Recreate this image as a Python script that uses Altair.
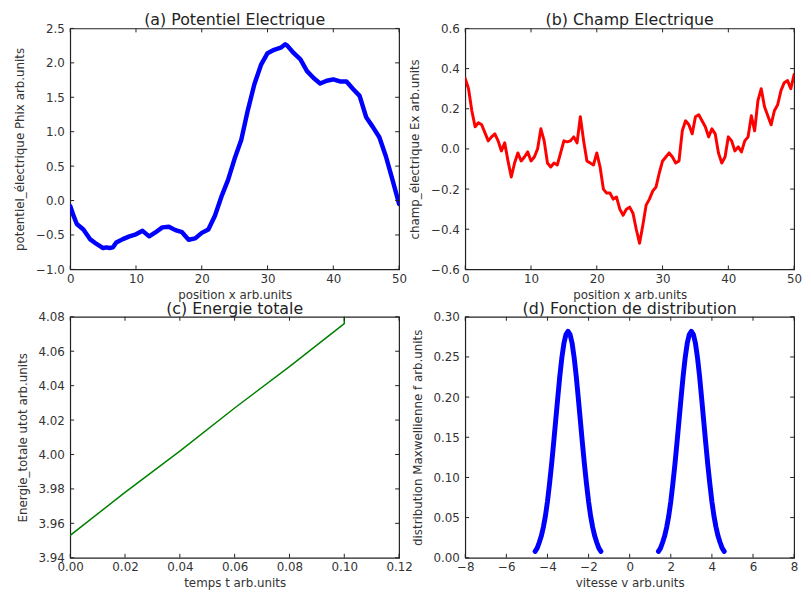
import altair as alt
import pandas as pd

# ---------------- data ----------------
# (a) electric potential
pot_x = [0, 0.5, 1, 2, 3, 4, 5, 5.5, 6, 6.5, 7, 8, 9, 10, 11, 12, 13, 14, 15, 16, 17, 18, 19, 20,
         21, 22, 23, 24, 25, 26, 27, 28, 29, 30, 31, 32, 32.7, 33, 34, 35, 36, 37, 38, 39, 40,
         41, 42, 43, 44, 45, 46, 47, 48, 49, 50]
pot_y = [-0.08, -0.22, -0.34, -0.42, -0.56, -0.63, -0.69, -0.68, -0.69, -0.68, -0.61, -0.56, -0.52,
         -0.49, -0.44, -0.52, -0.46, -0.39, -0.38, -0.43, -0.46, -0.57, -0.55, -0.47,
         -0.42, -0.22, 0.06, 0.30, 0.61, 0.88, 1.31, 1.69, 1.97, 2.14, 2.19, 2.22, 2.27, 2.25, 2.14,
         2.05, 1.88, 1.78, 1.70, 1.74, 1.76, 1.73, 1.73, 1.62, 1.52, 1.21, 1.07, 0.92, 0.64, 0.30, -0.05]

# (b) electric field
field_x = [0, 0.5, 1, 1.5, 2, 2.5, 3, 3.5, 4, 4.5, 5, 5.5, 6, 6.5, 7, 7.5, 8, 8.5, 9, 9.5,
           10, 10.5, 11, 11.5, 12, 12.5, 13, 13.5, 14, 14.5, 15, 15.5, 16, 16.5, 17, 17.5, 18, 18.5,
           19, 19.5, 20, 20.5, 21, 21.5, 22, 22.5, 23, 23.5, 24, 24.5, 25, 25.5, 26, 26.5, 27, 27.5,
           28, 28.5, 29, 29.5, 30, 30.5, 31, 31.5, 32, 32.5, 33, 33.5, 34, 34.5, 35, 35.5, 36, 36.5,
           37, 37.5, 38, 38.5, 39, 39.5, 40, 40.5, 41, 41.5, 42, 42.5, 43, 43.5, 44, 44.5, 45, 45.5,
           46, 46.5, 47, 47.5, 48, 48.5, 49, 49.5, 50]
field_y = [0.35, 0.30, 0.19, 0.11, 0.13, 0.12, 0.08, 0.04, 0.06, 0.075, 0.04, -0.01, 0.03, -0.06,
           -0.14, -0.07, -0.02, -0.06, -0.04, -0.015, -0.06, -0.04, 0.0, 0.10, 0.04, -0.07, -0.09,
           -0.07, -0.08, -0.02, 0.04, 0.035, 0.04, 0.06, 0.03, 0.16, 0.04, -0.06, -0.07, -0.08,
           -0.02, -0.09, -0.20, -0.22, -0.22, -0.25, -0.24, -0.30, -0.33, -0.30, -0.29, -0.32,
           -0.40, -0.47, -0.38, -0.28, -0.25, -0.21, -0.19, -0.12, -0.06, -0.04, -0.02, -0.04,
           -0.07, -0.06, 0.09, 0.14, 0.12, 0.075, 0.16, 0.17, 0.14, 0.11, 0.06, 0.10, 0.075,
           -0.02, -0.07, -0.04, 0.06, 0.04, -0.01, 0.01, -0.015, 0.04, 0.06, 0.165, 0.09, 0.24,
           0.30, 0.21, 0.165, 0.12, 0.19, 0.22, 0.29, 0.33, 0.34, 0.30, 0.37]

# (c) total energy
time_t = [0.0, 0.02, 0.04, 0.06, 0.08, 0.10, 0.10]
energy = [3.953, 3.978, 4.002, 4.027, 4.051, 4.076, 4.09]

# (d) distribution function (two beams)
vel_left = [-4.6, -4.5, -4.4, -4.3, -4.2, -4.1, -4.0, -3.9, -3.8, -3.7, -3.6, -3.5, -3.4, -3.3,
            -3.2, -3.1, -3.0, -2.9, -2.8, -2.7, -2.6, -2.5, -2.4, -2.3, -2.2, -2.1, -2.0, -1.9,
            -1.8, -1.7, -1.6, -1.5, -1.4]
vel_right = [1.4, 1.5, 1.6, 1.7, 1.8, 1.9, 2.0, 2.1, 2.2, 2.3, 2.4, 2.5, 2.6, 2.7, 2.8, 2.9, 3.0,
             3.1, 3.2, 3.3, 3.4, 3.5, 3.6, 3.7, 3.8, 3.9, 4.0, 4.1, 4.2, 4.3, 4.4, 4.5, 4.6]
dist_vals = [0.008, 0.012, 0.019, 0.027, 0.038, 0.052, 0.070, 0.092, 0.116, 0.143, 0.171, 0.199,
             0.226, 0.249, 0.267, 0.278, 0.282, 0.278, 0.267, 0.249, 0.226, 0.199, 0.171, 0.143,
             0.116, 0.092, 0.070, 0.052, 0.038, 0.027, 0.019, 0.012, 0.008]

# axis ticks
pot_yticks = [-1.0, -0.5, 0.0, 0.5, 1.0, 1.5, 2.0, 2.5]
pos_xticks = [0, 10, 20, 30, 40, 50]
field_yticks = [-0.6, -0.4, -0.2, 0.0, 0.2, 0.4, 0.6]
time_xticks = [0.0, 0.02, 0.04, 0.06, 0.08, 0.10, 0.12]
energy_yticks = [3.94, 3.96, 3.98, 4.00, 4.02, 4.04, 4.06, 4.08]
vel_xticks = [-8, -6, -4, -2, 0, 2, 4, 6, 8]
dist_yticks = [0.0, 0.05, 0.10, 0.15, 0.20, 0.25, 0.30]

W = 333
H = 244
TICK = 4
FONT = "DejaVu Sans"


def panel(df, title, xtitle, ytitle, xdom, ydom, xticks, yticks, xfmt, yfmt, color, sw, detail=None):
    xscale = alt.Scale(domain=xdom, nice=False, zero=False)
    yscale = alt.Scale(domain=ydom, nice=False, zero=False)
    xaxis = alt.Axis(values=xticks, format=xfmt, title=xtitle, labelPadding=4, titlePadding=5)
    yaxis = alt.Axis(values=yticks, format=yfmt, title=ytitle, labelPadding=6, titlePadding=9)
    X = alt.X("x:Q", scale=xscale, axis=xaxis)
    Y = alt.Y("y:Q", scale=yscale, axis=yaxis)
    enc = dict(x=X, y=Y)
    if detail:
        enc["detail"] = alt.Detail(detail + ":N")
    line = alt.Chart(df).mark_line(color=color, strokeWidth=sw, clip=True,
                                   strokeJoin="round", strokeCap="round").encode(**enc)
    xt = pd.DataFrame({"x": xticks})
    yt = pd.DataFrame({"y": yticks})
    rc = dict(color="#222222", strokeWidth=1)
    xb = alt.Chart(xt).mark_rule(**rc).encode(x=X, y=alt.value(H), y2=alt.value(H - TICK))
    xtp = alt.Chart(xt).mark_rule(**rc).encode(x=X, y=alt.value(0), y2=alt.value(TICK))
    yl = alt.Chart(yt).mark_rule(**rc).encode(y=Y, x=alt.value(0), x2=alt.value(TICK))
    yr = alt.Chart(yt).mark_rule(**rc).encode(y=Y, x=alt.value(W), x2=alt.value(W - TICK))
    return alt.layer(line, xb, xtp, yl, yr).properties(
        width=W, height=H,
        title=alt.TitleParams(title, fontSize=16, font=FONT, fontWeight="normal",
                              color="#222222", offset=-6, anchor="middle"))


df_a = pd.DataFrame({"x": pot_x, "y": pot_y})
df_b = pd.DataFrame({"x": field_x, "y": field_y})
df_c = pd.DataFrame({"x": time_t, "y": energy})
df_d = pd.DataFrame({
    "x": vel_left + vel_right,
    "y": dist_vals + dist_vals,
    "beam": ["left"] * len(vel_left) + ["right"] * len(vel_right),
})

pa = panel(df_a, "(a) Potentiel Electrique", "position x arb.units",
           "potentiel_électrique Phix arb.units", [0, 50], [-1.0, 2.5],
           pos_xticks, pot_yticks, "d", ".1f", "#0000ff", 4.5)
pb = panel(df_b, "(b) Champ Electrique", "position x arb.units",
           "champ_électrique Ex arb.units", [0, 50], [-0.6, 0.6],
           pos_xticks, field_yticks, "d", ".1f", "#ff0000", 3)
pc = panel(df_c, "(c) Energie totale", "temps t arb.units",
           "Energie_totale utot arb.units", [0, 0.12], [3.94, 4.08],
           time_xticks, energy_yticks, ".2f", ".2f", "#008000", 1.5)
pd_ = panel(df_d, "(d) Fonction de distribution", "vitesse v arb.units",
            "distribution Maxwellienne f arb.units", [-8, 8], [0.0, 0.30],
            vel_xticks, dist_yticks, "d", ".2f", "#0000ff", 5, detail="beam")

chart = alt.concat(pa, pb, pc, pd_, columns=2, spacing={"row": 48, "column": 67},
                   bounds="flush").properties(
    padding={"left": 5, "top": 0, "right": 0, "bottom": 0},
    background="white",
).configure_view(stroke="#222222", strokeWidth=1.2).configure_axis(
    labelFont=FONT, labelFontSize=12, labelColor="#333333",
    titleFont=FONT, titleFontSize=12, titleFontWeight="normal", titleColor="#333333",
    domain=False, grid=False, ticks=False, labelOverlap=False, labelFlush=False,
)

chart.save("out.html", embed_options={"renderer": "svg", "actions": False})
